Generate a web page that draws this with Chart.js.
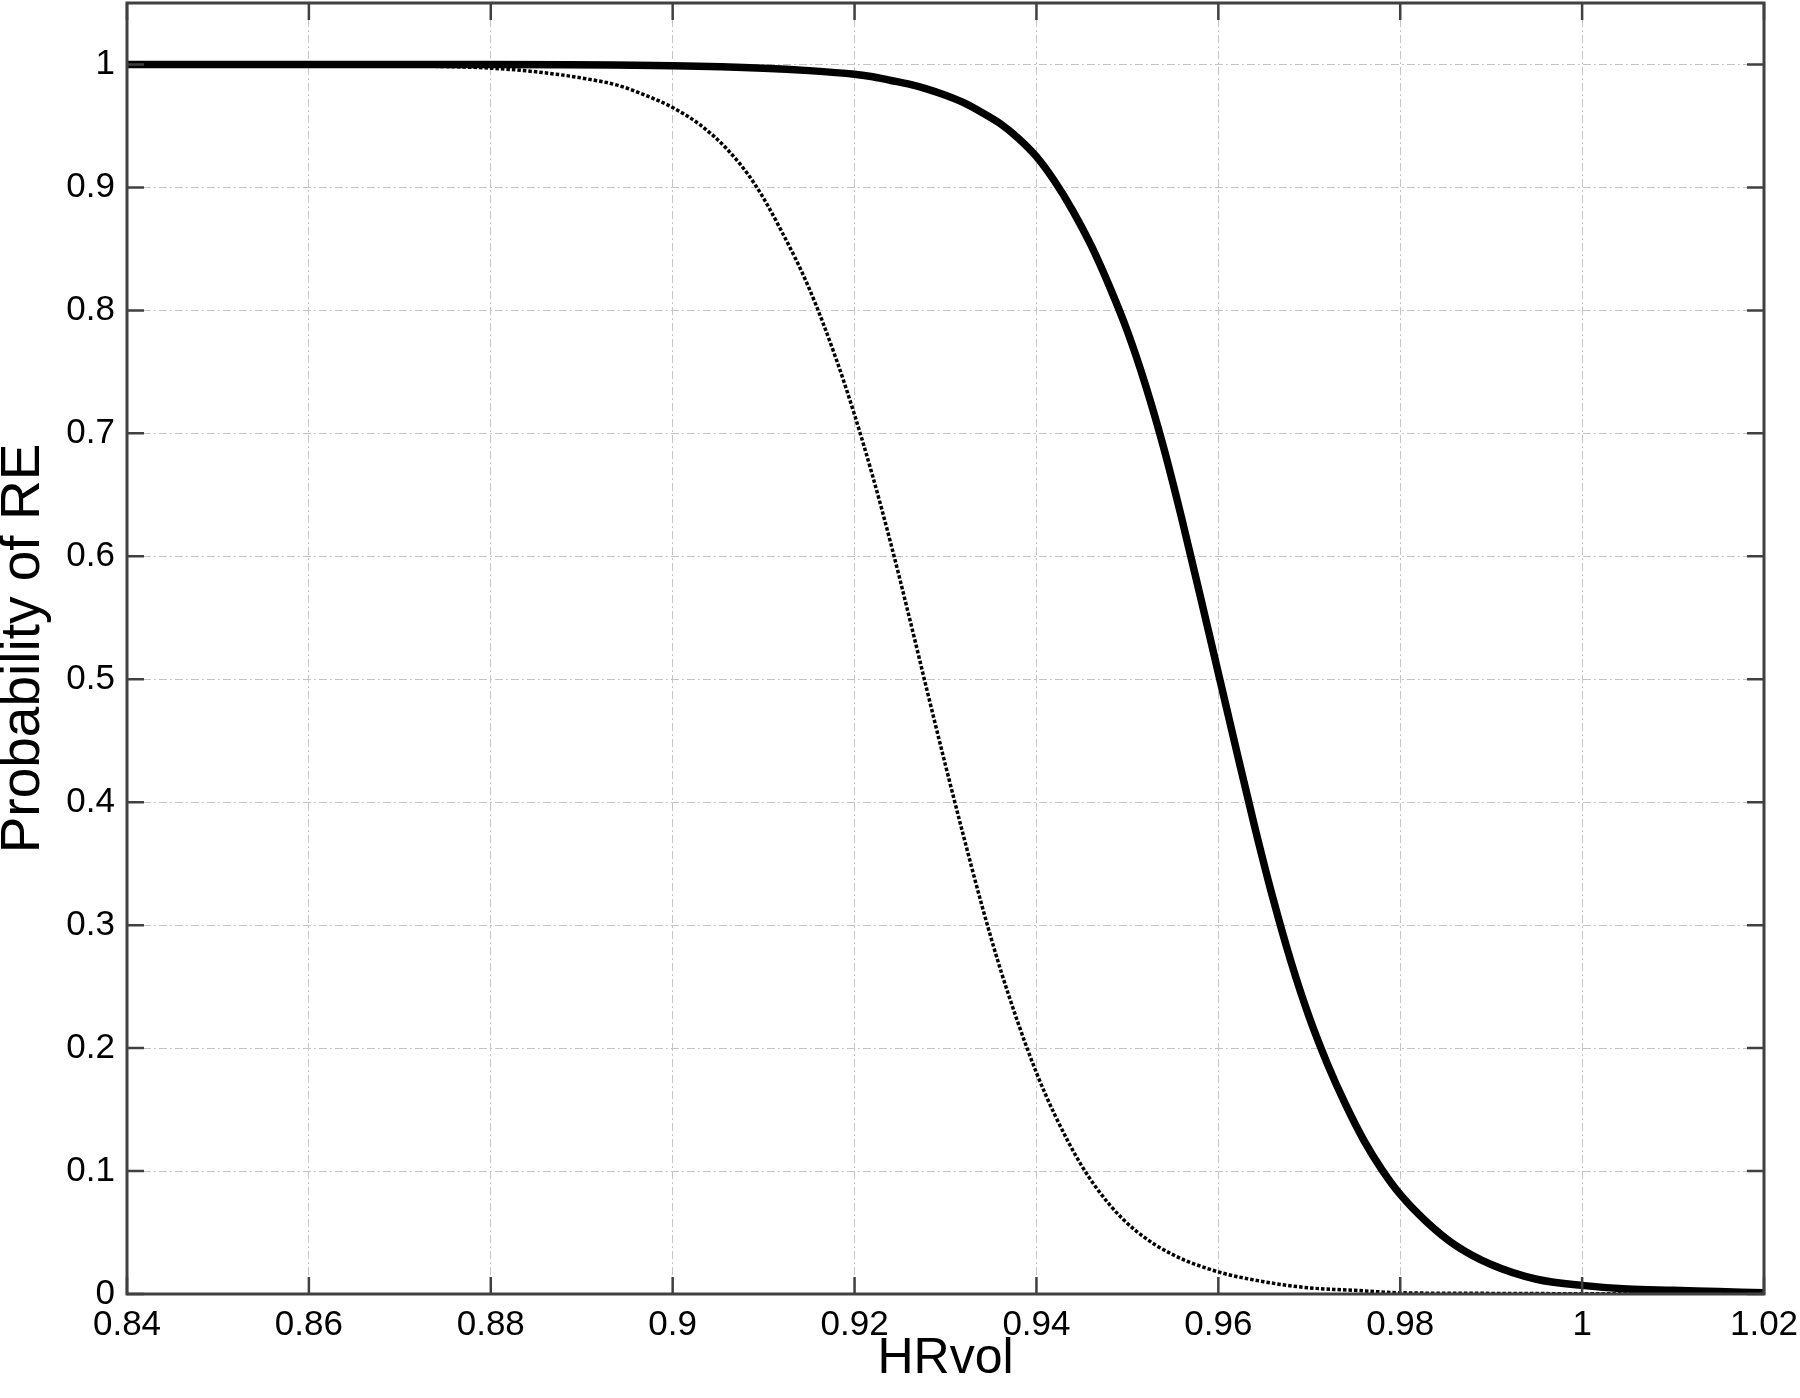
<!DOCTYPE html>
<html>
<head>
<meta charset="utf-8">
<script src="https://cdn.jsdelivr.net/npm/chart.js@4.4.1/dist/chart.umd.min.js"></script>
<style>
  body { margin: 0; background: #fff; }
  #wrap { width: 1800px; height: 1398px; }
</style>
</head>
<body>
<div id="wrap"><canvas id="chart1" width="1800" height="1398"></canvas></div>
<script>
// values
const dottedX = [0.84, 0.86, 0.87, 0.88, 0.885, 0.89, 0.894, 0.897, 0.90, 0.903, 0.906, 0.909, 0.912, 0.915, 0.918,
  0.920, 0.922, 0.924, 0.926, 0.928, 0.930, 0.932, 0.934, 0.936, 0.938, 0.940, 0.942, 0.945, 0.948,
  0.951, 0.955, 0.960, 0.965, 0.970, 0.975, 0.980, 0.990, 1.000, 1.020];
const dottedY = [1.000, 1.000, 0.999, 0.997, 0.994, 0.989, 0.983, 0.975, 0.965, 0.951, 0.931, 0.903, 0.864, 0.818, 0.760,
  0.715, 0.665, 0.610, 0.551, 0.490, 0.430, 0.372, 0.316, 0.265, 0.220, 0.180, 0.146, 0.104, 0.073,
  0.051, 0.032, 0.018, 0.010, 0.005, 0.003, 0.001, 0.0005, 0.0002, 0.0];

const solidX = [0.84, 0.88, 0.90, 0.91, 0.915, 0.92, 0.922, 0.924, 0.926, 0.928, 0.930, 0.932, 0.934, 0.936, 0.938,
  0.940, 0.942, 0.944, 0.946, 0.948, 0.950, 0.952, 0.954, 0.956, 0.958, 0.960, 0.962, 0.964, 0.966,
  0.968, 0.970, 0.972, 0.974, 0.976, 0.978, 0.980, 0.983, 0.986, 0.990, 0.995, 1.000, 1.005, 1.010,
  1.015, 1.020];
const solidY = [1.000, 1.000, 0.999, 0.997, 0.995, 0.992, 0.990, 0.987, 0.984, 0.980, 0.975, 0.969, 0.961, 0.952, 0.940,
  0.925, 0.905, 0.881, 0.853, 0.820, 0.783, 0.739, 0.688, 0.630, 0.568, 0.505, 0.442, 0.380, 0.322,
  0.270, 0.225, 0.187, 0.154, 0.125, 0.101, 0.081, 0.058, 0.040, 0.024, 0.012, 0.007, 0.004, 0.003,
  0.002, 0.001];

const xTicks = [0.84, 0.86, 0.88, 0.90, 0.92, 0.94, 0.96, 0.98, 1.00, 1.02];
const xTickLabels = ['0.84', '0.86', '0.88', '0.9', '0.92', '0.94', '0.96', '0.98', '1', '1.02'];
const yTicks = [0, 0.1, 0.2, 0.3, 0.4, 0.5, 0.6, 0.7, 0.8, 0.9, 1];
const yTickLabels = ['0', '0.1', '0.2', '0.3', '0.4', '0.5', '0.6', '0.7', '0.8', '0.9', '1'];

const FONT = "'Liberation Sans', Arial, Helvetica, sans-serif";

// box round the plot and the short inward ticks on all four sides
const matlabAxes = {
  id: 'matlabAxes',
  afterDatasetsDraw(chart) {
    const {ctx, chartArea: a, scales: {x, y}} = chart;
    ctx.save();
    ctx.strokeStyle = '#404040';
    ctx.lineWidth = 2.5;
    ctx.beginPath();
    xTicks.forEach(v => {
      const px = x.getPixelForValue(v);
      ctx.moveTo(px, a.bottom); ctx.lineTo(px, a.bottom - 17);
      ctx.moveTo(px, a.top); ctx.lineTo(px, a.top + 17);
    });
    yTicks.forEach(v => {
      const py = y.getPixelForValue(v);
      ctx.moveTo(a.left, py); ctx.lineTo(a.left + 17, py);
      ctx.moveTo(a.right, py); ctx.lineTo(a.right - 17, py);
    });
    ctx.stroke();
    ctx.lineWidth = 3;
    ctx.strokeRect(a.left, a.top, a.right - a.left, a.bottom - a.top);
    ctx.restore();
  }
};

const chart1 = new Chart(document.getElementById('chart1'), {
  type: 'line',
  data: {
    datasets: [{
      label: 'solid',
      data: solidX.map((v, i) => ({x: v, y: solidY[i]})),
      borderColor: '#000',
      borderWidth: 7.5,
      pointRadius: 0,
      cubicInterpolationMode: 'monotone',
      fill: false
    },
    {
      label: 'dotted',
      data: dottedX.map((v, i) => ({x: v, y: dottedY[i]})),
      borderColor: '#000',
      borderWidth: 3.5,
      borderDash: [3.5, 2],
      pointRadius: 0,
      cubicInterpolationMode: 'monotone',
      fill: false
    }]
  },
  plugins: [matlabAxes],
  options: {
    responsive: false,
    animation: false,
    layout: {
      padding: { top: 3, right: 36, left: 0, bottom: 0 }
    },
    plugins: {
      legend: { display: false },
      tooltip: { enabled: false }
    },
    scales: {
      x: {
        type: 'linear',
        min: 0.84,
        max: 1.02,
        afterBuildTicks: s => { s.ticks = xTicks.map(v => ({value: v})); },
        afterFit: s => { s.height = 104; s.paddingLeft = 0; s.paddingRight = 0; },
        grid: { color: '#c4c4c4', lineWidth: 1, drawTicks: false },
        border: { display: false, dash: [8, 3, 2, 3] },
        ticks: {
          padding: 10,
          color: '#000',
          maxRotation: 0,
          autoSkip: false,
          font: { family: FONT, size: 35 },
          callback: v => xTickLabels[xTicks.findIndex(t => Math.abs(t - v) < 1e-9)]
        },
        title: {
          display: true,
          text: 'HRvol',
          color: '#000',
          padding: { top: 0, bottom: 14 },
          font: { family: FONT, size: 50, lineHeight: 1 }
        }
      },
      y: {
        min: 0,
        max: 1.05,
        afterBuildTicks: s => { s.ticks = yTicks.map(v => ({value: v})); },
        afterFit: s => { s.width = 127; s.paddingTop = 0; s.paddingBottom = 0; },
        grid: { color: '#c4c4c4', lineWidth: 1, drawTicks: false },
        border: { display: false, dash: [8, 3, 2, 3] },
        ticks: {
          padding: 12,
          color: '#000',
          autoSkip: false,
          font: { family: FONT, size: 35 },
          callback: v => yTickLabels[yTicks.findIndex(t => Math.abs(t - v) < 1e-9)]
        },
        title: {
          display: true,
          text: 'Probability of RE',
          color: '#000',
          padding: { top: 0, bottom: 0 },
          font: { family: FONT, size: 55, lineHeight: 0.85 }
        }
      }
    }
  }
});
</script>
</body>
</html>
